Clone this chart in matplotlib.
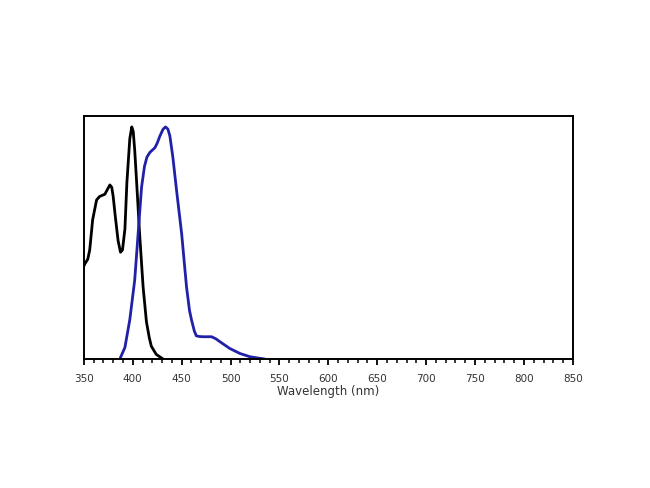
import matplotlib
matplotlib.use("Agg")
import matplotlib.pyplot as plt
from matplotlib.ticker import MultipleLocator

# Excitation (black)
ex_nm = [350, 351, 354, 356, 359, 363, 366, 371.5, 374, 376.6, 378.5, 380, 382, 385, 387.5, 389.5, 392, 394, 397, 399, 400.5, 402, 404, 407, 410.6, 414, 417, 419, 424, 431]
ex_val = [0.40, 0.41, 0.43, 0.47, 0.60, 0.685, 0.70, 0.71, 0.73, 0.75, 0.74, 0.70, 0.62, 0.51, 0.46, 0.47, 0.56, 0.76, 0.95, 1.0, 0.98, 0.90, 0.76, 0.54, 0.31, 0.16, 0.09, 0.055, 0.02, 0.0]

# Emission (blue)
em_nm = [386.8, 392, 397, 402, 405.5, 409, 412, 414.5, 417.5, 420, 422.6, 425, 427.7, 431, 433.5, 436, 438, 441, 444.7, 450, 455, 458, 460, 463, 465, 468, 472, 480.6, 485, 489, 499, 509.5, 519.7, 530, 535]
em_val = [0.0, 0.05, 0.17, 0.34, 0.54, 0.74, 0.83, 0.87, 0.89, 0.90, 0.91, 0.93, 0.96, 0.99, 1.0, 0.99, 0.96, 0.87, 0.73, 0.54, 0.31, 0.21, 0.17, 0.12, 0.10, 0.097, 0.096, 0.096, 0.087, 0.075, 0.046, 0.024, 0.01, 0.003, 0.0]

xticks = [350, 400, 450, 500, 550, 600, 650, 700, 750, 800, 850]

plt.rcParams['font.family'] = ['DejaVu Sans']

fig = plt.figure(figsize=(6.5, 4.88), dpi=100)
ax = fig.add_axes([0.129, 0.2643, 0.7523, 0.498])

ax.plot(ex_nm, ex_val, color='black', lw=2.0, solid_joinstyle='round', solid_capstyle='round')
ax.plot(em_nm, em_val, color='#2020a8', lw=2.0, solid_joinstyle='round', solid_capstyle='round')

ax.set_xlim(350, 850)
ax.set_ylim(0, 1.047)
ax.set_xticks(xticks)
ax.set_xticklabels([str(t) for t in xticks])
ax.xaxis.set_minor_locator(MultipleLocator(10))
ax.tick_params(axis='x', which='major', direction='out', length=4.5, width=1.3,
               labelsize=7.5, pad=6, labelcolor='#333333')
ax.tick_params(axis='x', which='minor', direction='out', length=3, width=1.1)
ax.set_yticks([])
for s in ax.spines.values():
    s.set_linewidth(1.4)
ax.set_xlabel('Wavelength (nm)', fontsize=8.5, labelpad=1, color='#333333')

fig.savefig('out.png', dpi=100)
